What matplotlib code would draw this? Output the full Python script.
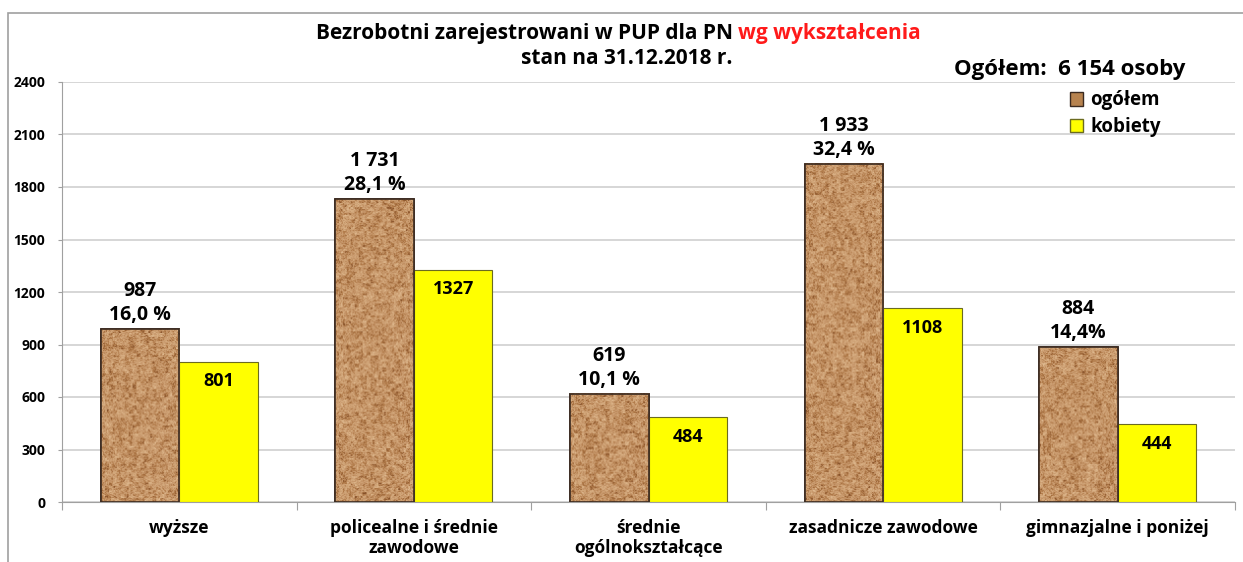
import numpy as np
import matplotlib
matplotlib.use("Agg")
import matplotlib.pyplot as plt
from matplotlib.colors import LinearSegmentedColormap
from matplotlib.patches import Rectangle, Patch

plt.rcParams['font.family'] = ['Open Sans', 'DejaVu Sans']

categories = ["wyższe", "policealne i średnie\nzawodowe", "średnie\nogólnokształcące",
              "zasadnicze zawodowe", "gimnazjalne i poniżej"]
ogolem = [987, 1731, 619, 1933, 884]
kobiety = [801, 1327, 484, 1108, 444]
ogolem_labels = ["987\n16,0 %", "1 731\n28,1 %", "619\n10,1 %", "1 933\n32,4 %", "884\n14,4%"]
kobiety_labels = ["801", "1327", "484", "1108", "444"]
yticks = [0, 300, 600, 900, 1200, 1500, 1800, 2100, 2400]

W, H = 1243, 562
fig = plt.figure(figsize=(W / 100, H / 100), dpi=100)
ax = fig.add_axes([62 / W, (H - 502) / H, (1235 - 62) / W, (502 - 82) / H])

# outer frame
fig.add_artist(Rectangle((8 / W, -0.1), 1.2, (H - 13) / H + 0.1, transform=fig.transFigure,
                         fill=False, edgecolor='#a0a0a0', lw=1.2))

x = np.arange(len(categories))
bw = 0.335

cork = LinearSegmentedColormap.from_list('cork', ['#85502a', '#ad7644', '#c6966a', '#d3a87b', '#e0bb92'])


def hashn(i, j):
    v = np.sin(i * 12.9898 + j * 78.233) * 43758.5453
    return v - np.floor(v)


def texture(seed, h=400, w=80):
    jj, ii = np.meshgrid(np.arange(w), np.arange(h))
    n = 0.30 * hashn((ii // 2) + seed * 1000, (jj // 2) + 7)
    n += 0.30 * hashn((ii // 4) + seed * 517, (jj // 4) + 13)
    n += 0.40 * hashn(ii + seed * 331, jj + 3)
    return n


ax.bar(x - bw / 2, ogolem, bw, color='#c8955f', edgecolor='#3a2a20', lw=1.2, zorder=3)
for k, v in enumerate(ogolem):
    tex = texture(k + 1, h=max(10, int(v * 420 / 2400)), w=80)
    ax.imshow(tex, cmap=cork, extent=(x[k] - bw, x[k], 0, v), aspect='auto',
              interpolation='bilinear', zorder=3.5, vmin=0.05, vmax=0.95)
    ax.add_patch(Rectangle((x[k] - bw, 0), bw, v, fill=False, edgecolor='#3a2a20', lw=1.2, zorder=4))
ax.bar(x + bw / 2, kobiety, bw, color='#ffff00', edgecolor='#6b6b20', lw=0.8, zorder=3)

for k, (v, lab) in enumerate(zip(ogolem, ogolem_labels)):
    ax.annotate(lab, (x[k] - bw / 2, v), xytext=(0, 3), textcoords='offset points',
                ha='center', va='bottom', fontsize=14, fontweight='bold', linespacing=1.25,
                zorder=6)
for k, (v, lab) in enumerate(zip(kobiety, kobiety_labels)):
    ax.annotate(lab, (x[k] + bw / 2, v), xytext=(0, -14), textcoords='offset points',
                ha='center', va='center', fontsize=13, fontweight='bold', zorder=6)

ax.set_xlim(-0.5, len(categories) - 0.5)
ax.set_ylim(0, 2400)
ax.set_yticks(yticks)
ax.set_yticklabels([str(t) for t in yticks], fontsize=10, fontweight='bold')
ax.tick_params(axis='y', length=3, pad=9, color='#a0a0a0')
ax.set_xticks(np.arange(len(categories) + 1) - 0.5)
ax.set_xticklabels([])
ax.tick_params(axis='x', which='major', length=6, color='#a0a0a0', direction='out')
ax.set_xticks(x, minor=True)
ax.set_xticklabels(categories, minor=True, fontsize=12.5, fontweight='bold', linespacing=1.15)
ax.tick_params(axis='x', which='minor', length=0, pad=12)
ax.yaxis.grid(True, color='#d0d0d0', lw=1.2, zorder=0)
ax.set_axisbelow(True)
for s in ['top', 'right']:
    ax.spines[s].set_visible(False)
for s in ['left', 'bottom']:
    ax.spines[s].set_color('#a0a0a0')

# title (two colours)
t1 = fig.text(316 / W, 1 - 34 / H, "Bezrobotni zarejestrowani w PUP dla PN ", ha='left', va='center',
              fontsize=15, fontweight='bold')
fig.canvas.draw()
bb = t1.get_window_extent()
fig.text(bb.x1 / W, 1 - 34 / H, "wg wykształcenia", ha='left', va='center',
         fontsize=15, fontweight='bold', color='#ff1a1a')
fig.text(627 / W, 1 - 59 / H, "stan na 31.12.2018 r.", ha='center', va='center',
         fontsize=15, fontweight='bold')

fig.text(1070 / W, 1 - 70 / H, "Ogółem:  6 154 osoby", ha='center', va='center',
         fontsize=16, fontweight='bold')

handles = [Patch(facecolor='#b7834f', edgecolor='#3a2a20', label='ogółem'),
           Patch(facecolor='#ffff00', edgecolor='#6b6b20', label='kobiety')]
leg = fig.legend(handles=handles, loc='upper left', bbox_to_anchor=(1062 / W, 1 - 83 / H),
                 frameon=False, prop={'weight': 'bold', 'size': 13.5}, handlelength=0.7,
                 handleheight=0.7, handletextpad=0.4, labelspacing=0.35, borderaxespad=0)

fig.savefig("out.png", dpi=100)
